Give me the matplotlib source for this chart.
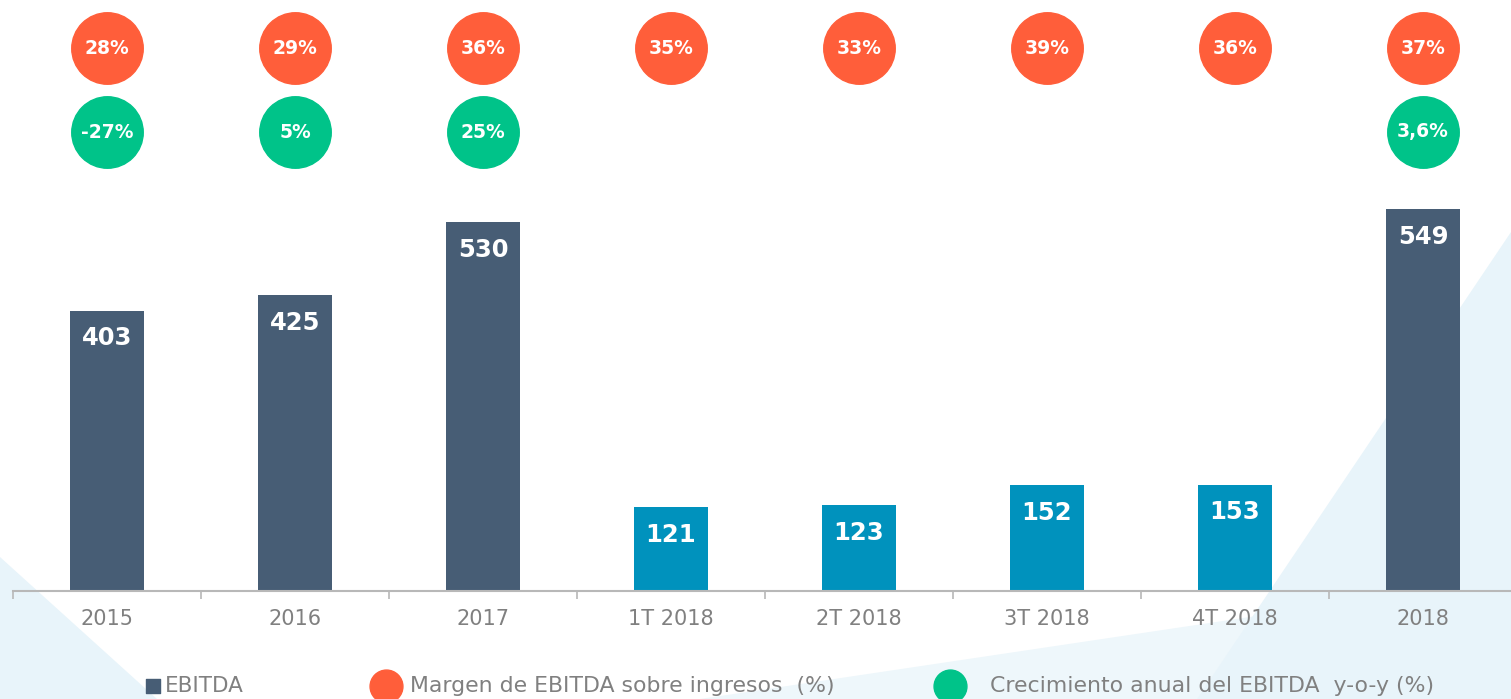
import matplotlib.pyplot as plt
from matplotlib.patches import Polygon

# Datos del gráfico
categorias = ['2015', '2016', '2017', '1T 2018', '2T 2018', '3T 2018', '4T 2018', '2018']
ebitda = [403, 425, 530, 121, 123, 152, 153, 549]
margen = ['28%', '29%', '36%', '35%', '33%', '39%', '36%', '37%']
crecimiento = ['-27%', '5%', '25%', '', '', '', '', '3,6%']

# Colores
azul_oscuro = '#475d75'
azul_claro = '#0092bd'
naranja = '#ff5e3a'
verde = '#00c389'
gris = '#808080'
fondo = '#e8f4fa'

# Trimestres en azul claro, años en azul oscuro
colores_barras = [azul_claro if 'T ' in c else azul_oscuro for c in categorias]

W, H = 1511, 699
fig = plt.figure(figsize=(W / 100, H / 100), dpi=100)

# Fondo con triángulos azul claro (coordenadas en píxeles)
bg = fig.add_axes([0, 0, 1, 1], zorder=0)
bg.set_xlim(0, W)
bg.set_ylim(H, 0)
bg.axis('off')
bg.add_patch(Polygon([(700, H), (W, 578), (W, H)], color='#eef7fb', lw=0))
bg.add_patch(Polygon([(W, 232), (1197, H), (W, H)], color=fondo, lw=0))
bg.add_patch(Polygon([(0, 557), (157, H), (0, H)], color=fondo, lw=0))

# Ejes principales
base = 591
escala = 0.696  # px por unidad
ax = fig.add_axes([13 / W, (H - base) / H, 1498 / W, base / H], zorder=1)
ax.patch.set_alpha(0)
ax.set_xlim(-0.5, 7.5 - 6 / 188)
ax.set_ylim(0, base / escala)

x = range(len(categorias))
ax.bar(x, ebitda, width=0.39, color=colores_barras, zorder=2)

# Etiquetas de valor dentro de las barras
for i, v in enumerate(ebitda):
    ax.annotate(str(v), (i, v), xytext=(0, -20), textcoords='offset points',
                ha='center', va='center', color='white', fontsize=17.5,
                fontweight='bold', zorder=3)

# Círculos de margen y crecimiento
y_margen = (base - 48) / escala
y_crec = (base - 132) / escala
for i in x:
    ax.scatter(i, y_margen, s=2650, color=naranja, zorder=3, clip_on=False)
    ax.text(i, y_margen, margen[i], ha='center', va='center', color='white',
            fontsize=13.5, fontweight='bold', zorder=4)
    if crecimiento[i]:
        ax.scatter(i, y_crec, s=2650, color=verde, zorder=3, clip_on=False)
        ax.text(i, y_crec, crecimiento[i], ha='center', va='center', color='white',
                fontsize=13.5, fontweight='bold', zorder=4)

# Eje X
for s in ['top', 'right', 'left']:
    ax.spines[s].set_visible(False)
ax.spines['bottom'].set_color('#b8b8b8')
ax.spines['bottom'].set_linewidth(1.5)
ax.set_yticks([])
ax.set_xticks([i - 0.5 for i in range(8)])
ax.set_xticklabels([])
ax.tick_params(axis='x', which='major', length=6, width=1.2, color='#b8b8b8')
ax.set_xticks(list(x), minor=True)
ax.set_xticklabels(categorias, minor=True)
ax.tick_params(axis='x', which='minor', length=0, pad=13, labelsize=15, labelcolor=gris)

# Leyenda manual (coordenadas en píxeles)
ly = 686
bg.scatter(153, ly, marker='s', s=95, color=azul_oscuro, zorder=5)
bg.text(165, ly, 'EBITDA', va='center', ha='left', fontsize=15.5, color=gris)
bg.scatter(386, ly, s=560, color=naranja, zorder=5)
bg.text(410, ly, 'Margen de EBITDA sobre ingresos  (%)', va='center', ha='left',
        fontsize=15.8, color=gris)
bg.scatter(950, ly, s=560, color=verde, zorder=5)
bg.text(990, ly, 'Crecimiento anual del EBITDA  y-o-y (%)', va='center', ha='left',
        fontsize=15.8, color=gris)

fig.savefig('out.png', dpi=100)
